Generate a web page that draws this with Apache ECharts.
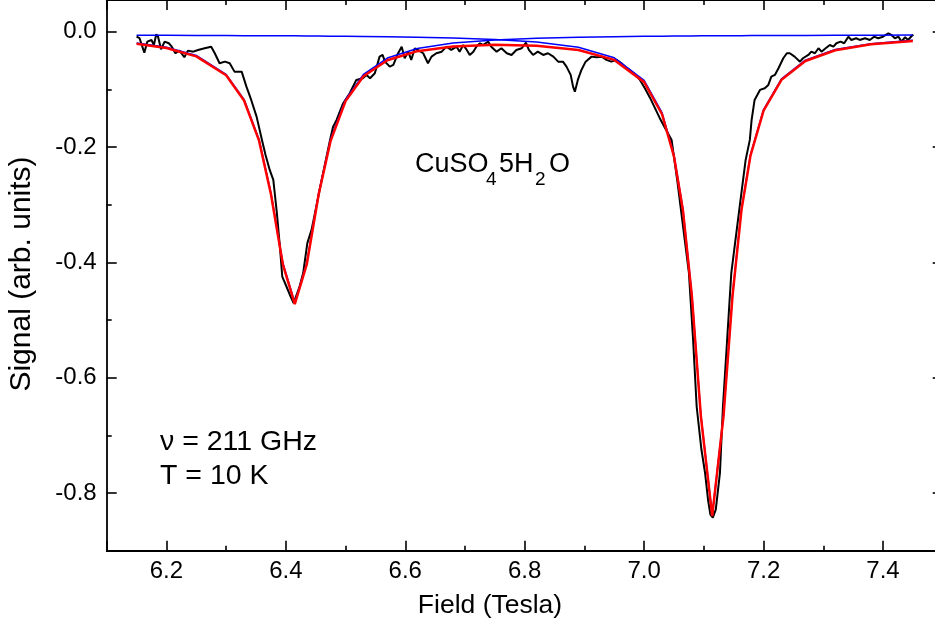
<!DOCTYPE html>
<html><head><meta charset="utf-8">
<script src="https://cdn.jsdelivr.net/npm/echarts@6/dist/echarts.min.js"></script>
<style>html,body{margin:0;padding:0;background:#fff}#wrap{position:relative;width:935px;height:625px}#c,#frame{position:absolute;left:0;top:0;width:935px;height:625px}#frame{pointer-events:none}</style>
</head><body><div id="wrap"><div id="c"></div><div id="frame"></div></div>
<script>
// Measured data (Field in Tesla, Signal in arb. units)
const fieldData = [6.150,6.155,6.163,6.168,6.175,6.179,6.183,6.186,6.191,6.197,6.204,6.209,6.215,6.222,6.230,6.236,6.245,6.253,6.264,6.275,6.281,6.289,6.298,6.306,6.314,6.326,6.334,6.342,6.351,6.360,6.366,6.373,6.379,6.385,6.390,6.394,6.401,6.408,6.413,6.423,6.429,6.436,6.443,6.451,6.460,6.467,6.474,6.479,6.485,6.496,6.507,6.518,6.529,6.535,6.541,6.549,6.557,6.562,6.566,6.574,6.580,6.588,6.594,6.599,6.605,6.610,6.616,6.621,6.630,6.638,6.644,6.652,6.661,6.669,6.677,6.686,6.691,6.697,6.703,6.708,6.714,6.719,6.725,6.730,6.739,6.744,6.753,6.761,6.770,6.778,6.786,6.795,6.802,6.807,6.814,6.822,6.831,6.839,6.848,6.856,6.864,6.870,6.877,6.881,6.884,6.889,6.895,6.902,6.912,6.920,6.929,6.937,6.945,6.954,6.962,6.971,6.976,6.984,6.993,7.001,7.010,7.018,7.026,7.035,7.046,7.056,7.068,7.075,7.082,7.088,7.096,7.102,7.107,7.111,7.115,7.120,7.127,7.132,7.139,7.146,7.160,7.170,7.177,7.180,7.185,7.194,7.202,7.208,7.213,7.219,7.225,7.233,7.239,7.244,7.252,7.261,7.266,7.275,7.280,7.286,7.292,7.297,7.304,7.311,7.317,7.322,7.329,7.335,7.342,7.347,7.355,7.361,7.370,7.378,7.385,7.392,7.400,7.409,7.414,7.420,7.426,7.431,7.437,7.442,7.448,7.451];
const signalData = [-0.0087,-0.0114,-0.0364,-0.0173,-0.0144,-0.0231,-0.0045,-0.0087,-0.0305,-0.0173,-0.0201,-0.0260,-0.0374,-0.0329,-0.0444,-0.0329,-0.0347,-0.0317,-0.0288,-0.0260,-0.0374,-0.0548,-0.0520,-0.0548,-0.0693,-0.0693,-0.0953,-0.1184,-0.1473,-0.1877,-0.2137,-0.2397,-0.2570,-0.3147,-0.3726,-0.4246,-0.4419,-0.4593,-0.4707,-0.4419,-0.4187,-0.3667,-0.3437,-0.3033,-0.2570,-0.2224,-0.1877,-0.1652,-0.1530,-0.1241,-0.1068,-0.0837,-0.0808,-0.0750,-0.0808,-0.0721,-0.0433,-0.0404,-0.0520,-0.0607,-0.0577,-0.0374,-0.0260,-0.0461,-0.0347,-0.0490,-0.0288,-0.0317,-0.0374,-0.0548,-0.0433,-0.0374,-0.0347,-0.0260,-0.0317,-0.0260,-0.0347,-0.0231,-0.0317,-0.0404,-0.0347,-0.0260,-0.0201,-0.0231,-0.0173,-0.0260,-0.0347,-0.0288,-0.0374,-0.0404,-0.0317,-0.0288,-0.0191,-0.0317,-0.0404,-0.0347,-0.0404,-0.0374,-0.0433,-0.0520,-0.0520,-0.0607,-0.0750,-0.0953,-0.1040,-0.0837,-0.0664,-0.0520,-0.0433,-0.0444,-0.0433,-0.0490,-0.0520,-0.0490,-0.0548,-0.0634,-0.0664,-0.0733,-0.0837,-0.0976,-0.1149,-0.1322,-0.1496,-0.1669,-0.1877,-0.2622,-0.3610,-0.4182,-0.5343,-0.6504,-0.7250,-0.7648,-0.8116,-0.8376,-0.8428,-0.8289,-0.7648,-0.6499,-0.5343,-0.4182,-0.3033,-0.2224,-0.1877,-0.1530,-0.1184,-0.1010,-0.0981,-0.0924,-0.0780,-0.0750,-0.0634,-0.0461,-0.0374,-0.0374,-0.0433,-0.0520,-0.0461,-0.0404,-0.0347,-0.0374,-0.0288,-0.0347,-0.0288,-0.0231,-0.0260,-0.0201,-0.0173,-0.0201,-0.0087,-0.0144,-0.0114,-0.0144,-0.0114,-0.0144,-0.0087,-0.0114,-0.0087,-0.0028,-0.0057,-0.0114,-0.0087,-0.0173,-0.0097,-0.0144,-0.0075,-0.0057];

// Fit curves
const fitField = [6.150,6.200,6.250,6.300,6.330,6.355,6.375,6.395,6.415,6.435,6.455,6.475,6.500,6.530,6.570,6.620,6.680,6.750,6.820,6.890,6.950,7.000,7.030,7.050,7.065,7.080,7.095,7.114,7.133,7.148,7.163,7.178,7.200,7.230,7.270,7.320,7.380,7.450];
const fitPeak1 = [-0.0198,-0.0271,-0.0413,-0.0740,-0.1174,-0.1865,-0.2794,-0.4012,-0.4700,-0.4012,-0.2794,-0.1865,-0.1174,-0.0740,-0.0457,-0.0292,-0.0198,-0.0144,-0.0114,-0.0097,-0.0087,-0.0081,-0.0078,-0.0076,-0.0075,-0.0074,-0.0073,-0.0072,-0.0071,-0.0070,-0.0069,-0.0068,-0.0067,-0.0066,-0.0065,-0.0063,-0.0062,-0.0060];
const fitPeak2 = [-0.0062,-0.0064,-0.0065,-0.0067,-0.0069,-0.0070,-0.0071,-0.0072,-0.0073,-0.0075,-0.0076,-0.0078,-0.0080,-0.0083,-0.0088,-0.0096,-0.0110,-0.0135,-0.0180,-0.0271,-0.0453,-0.0844,-0.1404,-0.2137,-0.3075,-0.4566,-0.6642,-0.8380,-0.6642,-0.4566,-0.3075,-0.2137,-0.1351,-0.0819,-0.0494,-0.0310,-0.0208,-0.0150];
const fitTotal = [-0.0210,-0.0284,-0.0428,-0.0757,-0.1193,-0.1885,-0.2815,-0.4034,-0.4723,-0.4037,-0.2820,-0.1893,-0.1204,-0.0773,-0.0495,-0.0338,-0.0258,-0.0229,-0.0244,-0.0318,-0.0490,-0.0875,-0.1432,-0.2163,-0.3100,-0.4590,-0.6665,-0.8402,-0.6663,-0.4586,-0.3094,-0.2155,-0.1368,-0.0835,-0.0508,-0.0323,-0.0220,-0.0160];

const xTickLabels = ['6.2','6.4','6.6','6.8','7.0','7.2','7.4'];
const yTickLabels = ['0.0','-0.2','-0.4','-0.6','-0.8'];

const FONT = '"Liberation Sans", Arial, Helvetica, sans-serif';
const zip = (xs, ys) => xs.map((x, i) => [x, ys[i]]);
const fmtX = v => { const s = v.toFixed(1); return (Math.abs(v*5 - Math.round(v*5)) < 1e-6 && xTickLabels.includes(s)) ? s : ''; };
const fmtY = v => { let s = v.toFixed(1); if (s === '-0.0') s = '0.0'; return (Math.abs(v*5 - Math.round(v*5)) < 1e-6 && yTickLabels.includes(s)) ? s : ''; };

const lineSt = {color:'#000', width:1.8};
const tickSt = {color:'#000', width:1.6};
function axis(extra) {
  return Object.assign({
    type:'value', show:true, gridIndex:0, splitLine:{show:false}, minorSplitLine:{show:false},
    axisLine:{show:true, onZero:false, lineStyle:lineSt},
    axisTick:{show:true, inside:true, length:10, lineStyle:tickSt},
    minorTick:{show:true, splitNumber:2, length:5, lineStyle:tickSt}
  }, extra);
}
const xBase = {min:6.1, max:7.5, splitNumber:7, minInterval:0.2, maxInterval:0.2};
const yBase = {min:-0.9, max:0.0549, splitNumber:5, minInterval:0.2, maxInterval:0.2};
const gridRect = {left:106.7, right:-7.7, top:0, bottom:74.3, containLabel:false, outerBoundsMode:'none'};

// Main chart: data, fits, bottom/left axes, texts
const chart = echarts.init(document.getElementById('c'));
chart.setOption({
  animation:false,
  backgroundColor:'#ffffff',
  grid:Object.assign({}, gridRect),
  xAxis:[axis(Object.assign({position:'bottom', axisLabel:{show:true, margin:9, color:'#000', fontSize:24, fontFamily:FONT, showMinLabel:false, showMaxLabel:false, formatter:fmtX}}, xBase))],
  yAxis:[axis(Object.assign({position:'left', axisLabel:{show:true, margin:10, color:'#000', fontSize:24, fontFamily:FONT, showMinLabel:false, showMaxLabel:false, formatter:fmtY}}, yBase))],
  series:[
    {type:'line', name:'data', data:zip(fieldData, signalData), showSymbol:false, symbol:'none', lineStyle:{color:'#000', width:2}, z:2},
    {type:'line', name:'peak1', data:zip(fitField, fitPeak1), showSymbol:false, symbol:'none', lineStyle:{color:'#0000ff', width:1.5}, z:3},
    {type:'line', name:'peak2', data:zip(fitField, fitPeak2), showSymbol:false, symbol:'none', lineStyle:{color:'#0000ff', width:1.5}, z:3},
    {type:'line', name:'fit', data:zip(fitField, fitTotal), showSymbol:false, symbol:'none', lineStyle:{color:'#ff0000', width:2.5}, z:4}
  ],
  graphic:[
    {type:'text', x:22, y:274, rotation:Math.PI/2, style:{text:'Signal (arb. units)', fill:'#000', font:'30px '+FONT, textAlign:'center', textVerticalAlign:'middle', align:'center', verticalAlign:'middle'}},
    {type:'text', x:490, y:606, style:{text:'Field (Tesla)', fill:'#000', font:'26.5px '+FONT, textAlign:'center', textVerticalAlign:'middle', align:'center', verticalAlign:'middle'}},
    {type:'text', x:415, y:165, style:{text:'CuSO', fill:'#000', font:'27px '+FONT, textAlign:'left', textVerticalAlign:'middle', align:'left', verticalAlign:'middle'}},
    {type:'text', x:486, y:180, style:{text:'4', fill:'#000', font:'19px '+FONT, textAlign:'left', textVerticalAlign:'middle', align:'left', verticalAlign:'middle'}},
    {type:'text', x:499, y:165, style:{text:'5H', fill:'#000', font:'27px '+FONT, textAlign:'left', textVerticalAlign:'middle', align:'left', verticalAlign:'middle'}},
    {type:'text', x:535, y:180, style:{text:'2', fill:'#000', font:'19px '+FONT, textAlign:'left', textVerticalAlign:'middle', align:'left', verticalAlign:'middle'}},
    {type:'text', x:549, y:165, style:{text:'O', fill:'#000', font:'27px '+FONT, textAlign:'left', textVerticalAlign:'middle', align:'left', verticalAlign:'middle'}},
    {type:'text', x:160, y:442.5, style:{text:'\u03BD = 211 GHz', fill:'#000', font:'28.5px '+FONT, textAlign:'left', textVerticalAlign:'middle', align:'left', verticalAlign:'middle'}},
    {type:'text', x:160, y:476, style:{text:'T = 10 K', fill:'#000', font:'28.5px '+FONT, textAlign:'left', textVerticalAlign:'middle', align:'left', verticalAlign:'middle'}}
  ]
});

// Overlay chart (transparent): mirrored top and right axes with inward ticks
const frame = echarts.init(document.getElementById('frame'));
frame.setOption({
  animation:false,
  grid:Object.assign({}, gridRect),
  xAxis:[axis(Object.assign({position:'top', axisLabel:{show:false}}, xBase))],
  yAxis:[axis(Object.assign({position:'right', axisLabel:{show:false}}, yBase))],
  series:[]
});
</script>
</body></html>
